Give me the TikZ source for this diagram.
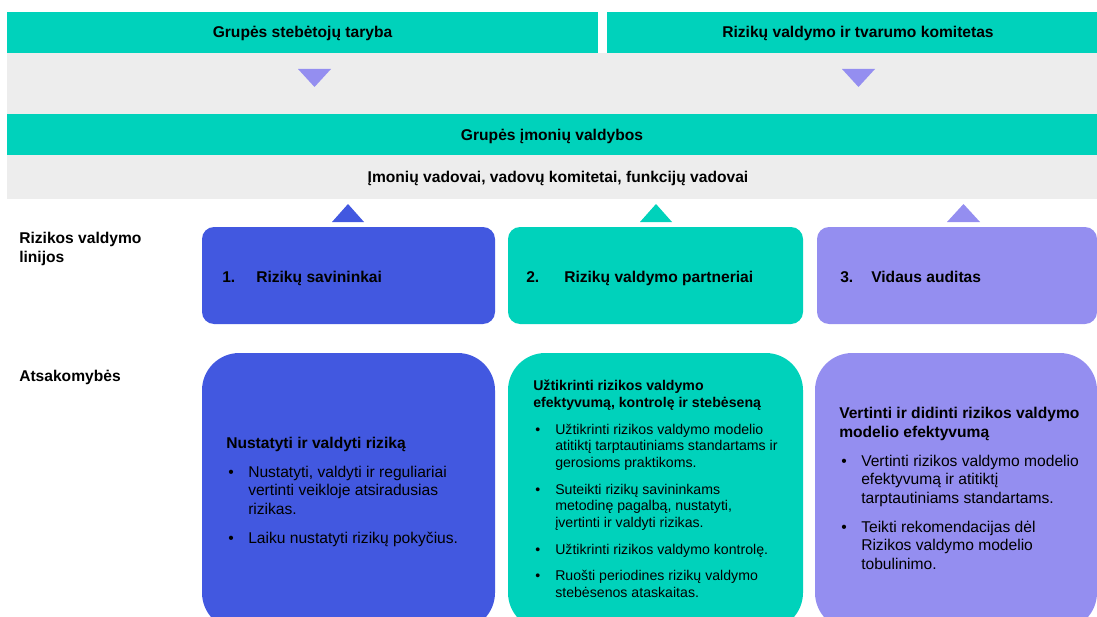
\documentclass[tikz,border=0pt]{standalone}
\usepackage{fontspec}
\setmainfont{Liberation Sans}
\definecolor{tealc}{RGB}{0,210,187}
\definecolor{bluec}{RGB}{66,88,224}
\definecolor{lilac}{RGB}{148,142,240}
\definecolor{greyc}{RGB}{237,237,237}
\newcommand{\bitem}{\makebox[16.5pt][l]{\hspace{1.5pt}\textbullet}}
\newcommand{\bcont}{\hspace*{16.5pt}}

\begin{document}
\begin{tikzpicture}[x=0.75pt,y=-0.75pt,
	every node/.style={inner sep=0pt},
	big/.style={font=\fontsize{11.7}{14}\selectfont},
	bigb/.style={font=\fontsize{11.7}{14}\selectfont\bfseries},
	small/.style={font=\fontsize{10.6}{12.5}\selectfont}]
					\useasboundingbox (0,0) rectangle (1097,617);
					\clip (0,0) rectangle (1097,617);
					\fill [greyc] (7,53) rectangle (1097,114);
					\fill [tealc] (7,12) rectangle (598,53);
					\fill [tealc] (607,12) rectangle (1110,53);
					\fill [tealc] (7,114) rectangle (1097,155);
					\fill [greyc] (7,155) rectangle (1097,199);
					\fill [lilac] (298,69) -- (331,69) -- (314.5,87) -- cycle;
					\fill [lilac] (842,69) -- (875,69) -- (858.5,87) -- cycle;
					\fill [bluec] (332,222) -- (364,222) -- (348,204) -- cycle;
					\fill [tealc] (640,222) -- (672,222) -- (656,204) -- cycle;
					\fill [lilac] (947,222) -- (980,222) -- (963.5,204) -- cycle;
					\fill [bluec, rounded corners=9pt] (202,227) rectangle (495,324);
					\fill [tealc, rounded corners=9pt] (508,227) rectangle (803,324);
					\fill [lilac, rounded corners=9pt] (817,227) rectangle (1097,324);
					\fill [bluec, rounded corners=28pt] (202,353) rectangle (495,630);
					\fill [tealc, rounded corners=28pt] (508,353) rectangle (803,630);
					\fill [lilac, rounded corners=28pt] (815,353) rectangle (1097,630);
					\node [bigb] (taryba) at (302.5,33) {Grupės stebėtojų taryba};
					\node [bigb] (komitetas) at (858,33) {Rizikų valdymo ir tvarumo komitetas};
					\node [bigb] (valdybos) at (552,136.5) {Grupės įmonių valdybos};
					\node [bigb] (vadovai) at (558,178.5) {Įmonių vadovai, vadovų komitetai, funkcijų vadovai};
					\node [bigb, align=left, anchor=west] (linijos) at (19,249) {Rizikos valdymo\\linijos};
					\node [bigb, anchor=west] (atsak) at (19,377) {Atsakomybės};
					\node [bigb, anchor=west] (linija1) at (222,278) {\makebox[25.5pt][l]{1.}Rizikų savininkai};
					\node [bigb, anchor=west] (linija2) at (526,278) {\makebox[28.5pt][l]{2.}Rizikų valdymo partneriai};
					\node [bigb, anchor=west] (linija3) at (840,277) {\makebox[23.25pt][l]{3.}Vidaus auditas};
					\node [big, align=left, anchor=west] (atsak1) at (226,491.8) {\textbf{Nustatyti ir valdyti riziką}\\[7.5pt]
						\bitem Nustatyti, valdyti ir reguliariai\\
						\bcont vertinti veikloje atsiradusias\\
						\bcont rizikas.\\[7.5pt]
						\bitem Laiku nustatyti rizikų pokyčius.};
					\node [small, align=left, anchor=west] (atsak2) at (533,489) {\textbf{Užtikrinti rizikos valdymo}\\
						\textbf{efektyvumą, kontrolę ir stebėseną}\\[7.5pt]
						\bitem Užtikrinti rizikos valdymo modelio\\
						\bcont atitiktį tarptautiniams standartams ir\\
						\bcont gerosioms praktikoms.\\[7.5pt]
						\bitem Suteikti rizikų savininkams\\
						\bcont metodinę pagalbą, nustatyti,\\
						\bcont įvertinti ir valdyti rizikas.\\[7.5pt]
						\bitem Užtikrinti rizikos valdymo kontrolę.\\[7.5pt]
						\bitem Ruošti periodines rizikų valdymo\\
						\bcont stebėsenos ataskaitas.};
					\node [big, align=left, anchor=west] (atsak3) at (839,488.7) {\textbf{Vertinti ir didinti rizikos valdymo}\\
						\textbf{modelio efektyvumą}\\[7.5pt]
						\bitem Vertinti rizikos valdymo modelio\\
						\bcont efektyvumą ir atitiktį\\
						\bcont tarptautiniams standartams.\\[7.5pt]
						\bitem Teikti rekomendacijas dėl\\
						\bcont Rizikos valdymo modelio\\
						\bcont tobulinimo.};
\end{tikzpicture}
\end{document}
